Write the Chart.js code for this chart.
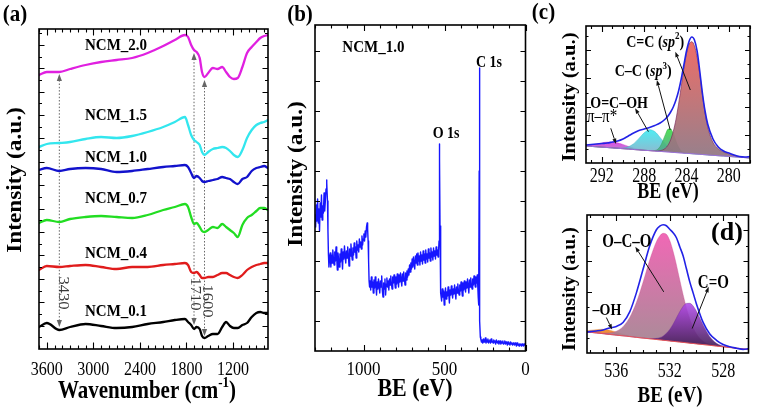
<!DOCTYPE html>
<html>
<head>
<meta charset="utf-8">
<script src="https://cdn.jsdelivr.net/npm/chart.js@4.4.1/dist/chart.umd.min.js"></script>
<style>
  html, body { margin: 0; padding: 0; background: #fff; }
  #wrap { position: relative; width: 760px; height: 409px; overflow: hidden; }
  canvas { position: absolute; }
</style>
</head>
<body>
<div id="wrap">
  <canvas id="ftir" width="290" height="409" style="left:0;top:0"></canvas>
  <canvas id="survey" width="260" height="409" style="left:280px;top:0"></canvas>
  <canvas id="c1s" width="240" height="205" style="left:520px;top:0"></canvas>
  <canvas id="o1s" width="240" height="209" style="left:520px;top:200px"></canvas>
</div>
<script>
// ---- (a) FTIR spectra, intensity in a.u. (offset stacked) ----
const ftirWn = [3700, 3600, 3438, 3300, 3100, 2900, 2700, 2500, 2300, 2100, 1950, 1820, 1780, 1740, 1703, 1670, 1630, 1600, 1568, 1520, 1460, 1400, 1340, 1290, 1240, 1190, 1140, 1080, 1020, 960, 900, 850, 800, 750];
const ncm20 = [274, 277, 277, 280, 284, 287, 289, 291, 296, 303, 309, 314, 312, 304, 299, 297, 291, 277, 272, 276, 281, 280, 282, 277, 272, 270, 271, 282, 296, 302, 307, 311, 313, 314];
const ncm15 = [202, 205, 206, 207, 210, 212, 211, 213, 217, 222, 227, 232, 224, 214, 209, 207, 204, 197, 194, 197, 200, 201, 202, 201, 198, 194, 192, 199, 211, 219, 224, 226, 227, 229];
const ncm10 = [179, 181, 178, 180, 181, 180, 177, 178, 180, 182, 183, 184, 182, 176, 171, 173, 171, 168, 167, 168, 169, 170, 172, 171, 170, 167, 165, 170, 172, 178, 181, 182, 183, 181];
const ncm07 = [126, 129, 127, 130, 132, 133, 132, 131, 134, 139, 142, 145, 142, 132, 125, 126, 122, 118, 117, 119, 122, 121, 125, 122, 119, 116, 112, 124, 131, 134, 138, 141, 141, 139];
const ncm04 = [79, 83, 82, 83, 84, 82, 80, 82, 82, 84, 85, 86, 84, 77, 76, 77, 74, 71, 71, 72, 72, 74, 76, 76, 74, 72, 71, 74, 79, 82, 84, 85, 86, 86];
const ncm01 = [22, 26, 19, 22, 25, 23, 21, 22, 25, 27, 29, 30, 27, 24, 20, 22, 20, 13, 11, 13, 15, 15, 22, 27, 23, 21, 21, 24, 26, 32, 36, 37, 36, 36];
const ftirNames = ['NCM_2.0', 'NCM_1.5', 'NCM_1.0', 'NCM_0.7', 'NCM_0.4', 'NCM_0.1'];
const ftirMarkWn = [3438, 1703, 1568];
const ftirMarkText = ['3430', '1710', '1600'];
const ftirMarkTop = [275, 296, 269];
const ftirMarkBottom = [22, 24, 13];

// ---- (b) XPS survey [BE, counts a.u.] ----
const xpsSurvey = [
  [1300,136],[1296,124],[1292,146],[1288,130],[1284,152],[1280,128],[1276,142],[1272,120],[1268,148],[1264,134],[1260,156],[1256,131],[1252,145],[1248,138],[1244,158],[1240,140],[1236,150],[1232,162],[1229,171],[1226,168],[1223,150],[1220,120],[1217,96],[1214,84],
  [1211,90],[1206,98],[1202,84],[1198,96],[1194,88],[1190,101],[1186,92],[1182,86],[1178,99],[1174,90],[1170,104],[1166,93],[1162,81],[1158,98],[1154,91],[1150,84],[1146,97],[1142,89],[1138,102],[1134,94],[1130,82],[1126,99],[1122,92],[1118,105],[1114,95],[1110,88],[1106,100],[1102,93],[1098,104],[1094,96],[1090,85],[1086,102],[1082,95],[1078,107],[1074,97],[1070,91],[1066,103],[1062,96],[1058,108],[1054,99],[1050,104],[1046,93],[1042,110],[1038,101],[1034,106],[1030,99],[1026,112],[1022,104],[1018,109],[1014,102],[1010,115],[1006,106],[1002,112],[998,117],[994,110],[990,120],[986,114],[982,124],[978,128],[975,122],[972,110],[969,90],[966,70],[963,64],
  [960,70],[956,61],[952,74],[948,64],[944,69],[940,58],[936,71],[932,63],[928,74],[924,66],[920,56],[916,69],[912,62],[908,72],[904,65],[900,58],[896,70],[892,64],[888,75],[884,60],[880,54],[876,68],[872,62],[868,72],[864,56],[860,67],[856,73],[852,64],[848,70],[844,61],[840,72],[836,66],[832,75],[828,67],[824,62],[820,74],[816,68],[812,76],[808,69],[804,63],[800,74],[796,67],[792,77],[788,70],[784,64],[780,76],[776,69],[772,78],[768,71],[764,65],[760,77],[756,70],[752,79],[748,72],[744,66],[740,78],[736,71],[732,80],[728,74],[724,82],[720,76],[716,86],[712,79],[708,88],[704,82],[700,92],[696,84],[692,94],[688,87],[684,82],[680,95],[676,88],[672,97],[668,86],[664,98],[660,90],[656,95],[652,86],[648,99],[644,90],[640,96],[636,87],[632,100],[628,91],[624,97],[620,88],[616,101],[612,92],[608,97],[604,89],[600,102],[596,93],[592,98],[588,90],[584,103],[580,94],[576,99],[572,91],[568,103],[564,95],[560,100],[556,92],[552,104],[548,96],[544,101],[540,94],[537,100],[534,110],[532,170],[531,207],[530,192],[528,125],[526,75],[524,62],
  [522,58],[518,50],[514,62],[510,54],[506,60],[502,46],[498,57],[494,63],[490,52],[486,59],[482,55],[478,64],[474,57],[470,48],[466,61],[462,56],[458,65],[454,58],[450,53],[446,62],[442,57],[438,66],[434,59],[430,52],[426,64],[422,58],[418,67],[414,60],[410,56],[406,66],[402,60],[398,69],[394,62],[390,55],[386,68],[382,61],[378,70],[374,63],[370,59],[366,69],[362,63],[358,72],[354,65],[350,58],[346,71],[342,64],[338,73],[334,66],[330,62],[326,72],[322,66],[318,75],[314,68],[310,64],[306,74],[302,68],[298,76],[295,66],[292,54],[290,46],[288,60],[286,180],[285,283],[284,250],[283,120],[281,30],[279,14],
  [276,12],[272,9],[268,11],[264,8],[260,12],[256,9],[252,10],[248,13],[244,8],[240,11],[236,9],[232,12],[228,8],[224,10],[220,11],[216,8],[212,12],[208,9],[204,10],[200,8],[196,11],[192,9],[188,10],[184,7],[180,11],[176,9],[172,8],[168,10],[164,7],[160,9],[156,10],[152,7],[148,9],[144,8],[140,10],[136,7],[132,8],[128,10],[124,7],[120,9],[116,8],[112,6],[108,9],[104,7],[100,8],[96,6],[92,9],[88,7],[84,8],[80,6],[76,8],[72,7],[68,6],[64,8],[60,7],[56,5],[52,8],[48,6],[44,7],[40,5],[36,7],[32,6],[28,7],[24,5],[20,7],[16,6],[12,5],[8,7],[4,6],[0,6]
];
const xpsPeakNames = ['O 1s', 'C 1s'];

// ---- (c) C 1s fit ----
const c1sBE = [293.5, 293, 292.5, 292, 291.5, 291, 290.5, 290, 289.5, 289, 288.5, 288, 287.5, 287, 286.5, 286, 285.75, 285.5, 285.25, 285, 284.75, 284.5, 284.25, 284, 283.75, 283.5, 283.25, 283, 282.75, 282.5, 282.25, 282, 281.5, 281, 280.5, 280, 279.5, 279, 278.5, 278];
const c1sEnvelope = [18, 18.5, 19, 19.5, 20, 21, 22, 24, 27, 30, 32.5, 34, 35.5, 37.5, 40, 44, 47, 51, 56, 63, 72, 84, 98, 112, 122, 126, 123, 112, 92, 70, 52, 39, 24, 16, 12, 10, 8, 6.5, 6, 6.5];
const c1sBackground = [17, 16.6, 16.2, 15.8, 15.5, 15.1, 14.7, 14.3, 13.9, 13.5, 13.1, 12.7, 12.4, 12, 11.6, 11.2, 11, 10.8, 10.6, 10.4, 10.2, 10, 9.8, 9.7, 9.5, 9.3, 9.1, 8.9, 8.7, 8.5, 8.3, 8.1, 7.7, 7.3, 7, 6.6, 6.2, 5.8, 5.4, 5];
const c1sPiPi = [0.7, 1.5, 2.8, 4.3, 5.5, 6, 5.5, 4.3, 2.8, 1.5, 0.7, 0.3, 0, 0, 0, 0, 0, 0, 0, 0, 0, 0, 0, 0, 0, 0, 0, 0, 0, 0, 0, 0, 0, 0, 0, 0, 0, 0, 0, 0];
const c1sCOOH = [0, 0, 0, 0, 0, 0, 0.2, 0.7, 2.3, 5.8, 11.5, 17.5, 20.9, 19.4, 14, 7.9, 5.4, 3.4, 2.1, 1.2, 0.6, 0.3, 0.1, 0, 0, 0, 0, 0, 0, 0, 0, 0, 0, 0, 0, 0, 0, 0, 0, 0];
const c1sSp3 = [0, 0, 0, 0, 0, 0, 0, 0, 0, 0, 0, 0, 0, 0.5, 4.8, 17.4, 22.9, 23.5, 18.8, 11.7, 5.7, 2.1, 0.7, 0.1, 0, 0, 0, 0, 0, 0, 0, 0, 0, 0, 0, 0, 0, 0, 0, 0];
const c1sSp2 = [0, 0, 0, 0, 0, 0, 0, 0, 0, 0, 0, 0, 0, 0, 0.7, 3.5, 6.8, 12.4, 21, 33, 48.7, 66.4, 84.4, 99.7, 109.4, 112, 108, 97, 80, 60, 42, 28, 13, 7, 4, 2.5, 1.2, 0.6, 0.2, 0];

// ---- (d) O 1s fit ----
const o1sBE = [538.2, 537.5, 537, 536.5, 536, 535.5, 535, 534.5, 534, 533.5, 533, 532.75, 532.5, 532.25, 532, 531.75, 531.5, 531.25, 531, 530.75, 530.5, 530.25, 530, 529.5, 529, 528.5, 528, 527.5, 527, 526.5, 526.1];
const o1sEnvelope = [21, 22, 23, 25, 26.5, 30.5, 41, 60, 83.5, 107, 123, 126.5, 128, 127, 123.5, 120, 115, 106, 97, 84, 71, 60, 49, 30.5, 19, 12.7, 8.5, 6.2, 4.8, 3.6, 4.4];
const o1sBackground = [21, 20, 19.3, 18.5, 17.8, 17.1, 16.4, 15.6, 14.9, 14.2, 13.5, 13.1, 12.7, 12.4, 12, 11.6, 11.3, 10.9, 10.6, 10.2, 9.8, 9.5, 9.1, 8.4, 7.7, 6.9, 6.2, 5.5, 4.8, 4, 3.5];
const o1sOH = [1.3, 3.3, 4.4, 4.3, 3, 1.6, 0.6, 0.2, 0, 0, 0, 0, 0, 0, 0, 0, 0, 0, 0, 0, 0, 0, 0, 0, 0, 0, 0, 0, 0, 0, 0];
const o1sOCO = [0, 0.1, 0.5, 1.5, 3.9, 9.2, 19.1, 34.7, 55.7, 78.6, 97.6, 103.7, 106.7, 106, 100.2, 89.9, 76.6, 62, 47.6, 34.8, 24.1, 15.8, 9.9, 3.3, 0.9, 0.2, 0, 0, 0, 0, 0];
const o1sCO = [0, 0, 0, 0, 0, 0, 0, 0, 0, 0.2, 1.1, 2.2, 4.1, 7.2, 11.5, 17.2, 23.7, 30.3, 35.9, 39.3, 39.8, 37.4, 32.5, 19.5, 8.6, 2.8, 0.7, 0.1, 0, 0, 0];

// ---------- helpers ----------
const SERIF = '"Liberation Serif", "Times New Roman", Times, serif';
const fnt = (size, style) => (style ? style + ' ' : '') + size + 'px ' + SERIF;
const B = s => fnt(s, 'bold');
const BI = s => fnt(s, 'italic bold');

function pts(xs, ys, base) {
  return xs.map((x, i) => ({ x: x, y: ys[i] + (base ? base[i] : 0) }));
}

// draw a run of text pieces [text, font, dy]
function txt(ctx, parts, x, y, o) {
  o = o || {};
  ctx.save();
  ctx.translate(x, y);
  if (o.rot) ctx.rotate(o.rot);
  ctx.scale(o.sx || 1, o.sy || 1);
  let w = 0;
  parts.forEach(p => { ctx.font = p[1]; w += ctx.measureText(p[0]).width; });
  let cx = o.align === 'left' ? 0 : (o.align === 'right' ? -w : -w / 2);
  ctx.fillStyle = o.color || '#000';
  ctx.textBaseline = o.base || 'alphabetic';
  parts.forEach(p => {
    ctx.font = p[1];
    ctx.fillText(p[0], cx, p[2] || 0);
    cx += ctx.measureText(p[0]).width;
  });
  ctx.restore();
}

function arrow(ctx, x1, y1, x2, y2, o) {
  ctx.save();
  ctx.strokeStyle = o.color; ctx.fillStyle = o.color; ctx.lineWidth = o.width || 1;
  const ang = Math.atan2(y2 - y1, x2 - x1);
  const hl = o.head || 6, hw = o.hw || 2.4;
  const bx = x2 - Math.cos(ang) * hl, by = y2 - Math.sin(ang) * hl;
  if (o.dash) ctx.setLineDash(o.dash);
  ctx.beginPath(); ctx.moveTo(x1, y1); ctx.lineTo(bx, by); ctx.stroke();
  ctx.setLineDash([]);
  ctx.beginPath();
  ctx.moveTo(x2, y2);
  ctx.lineTo(bx + Math.sin(ang) * hw, by - Math.cos(ang) * hw);
  ctx.lineTo(bx - Math.sin(ang) * hw, by + Math.cos(ang) * hw);
  ctx.closePath(); ctx.fill();
  ctx.restore();
}

function at(chart, x, y) {
  return [chart.scales.x.getPixelForValue(x), chart.scales.y.getPixelForValue(y)];
}

// vertical gradient between two data heights
function vgrad(vTop, vBot, cTop, cBot) {
  return c => {
    const ch = c.chart;
    if (!ch.chartArea) return cTop;
    const y0 = ch.scales.y.getPixelForValue(vTop), y1 = ch.scales.y.getPixelForValue(vBot);
    const g = ch.ctx.createLinearGradient(0, y0, 0, y1);
    g.addColorStop(0, cTop);
    g.addColorStop(1, cBot);
    return g;
  };
}

const isMult = (v, m) => Math.abs(v / m - Math.round(v / m)) < 1e-6;

// boxed frame with inward ticks and tick labels
function frameAxes(o) {
  return {
    id: 'frameAxes',
    afterDraw(chart) {
      const { ctx, chartArea: a } = chart;
      const xs = chart.scales.x, ys = chart.scales.y;
      ctx.save();
      ctx.strokeStyle = '#000';
      ctx.lineWidth = 1.1;
      ctx.beginPath();
      const n0 = Math.ceil(xs.min / o.xStep - 1e-9), n1 = Math.floor(xs.max / o.xStep + 1e-9);
      for (let n = n0; n <= n1; n++) {
        const v = n * o.xStep;
        const len = isMult(v, o.xMajor) ? o.major + 1 : o.minor + 0.5;
        const px = Math.round(xs.getPixelForValue(v)) + 0.5;
        ctx.moveTo(px, a.bottom); ctx.lineTo(px, a.bottom - len);
        ctx.moveTo(px, a.top); ctx.lineTo(px, a.top + len);
      }
      for (let n = 1; n * o.yStep < ys.max - 2; n++) {
        const len = (!o.yAlt || n % 2 === 0) ? o.major : o.minor;
        const py = Math.round(ys.getPixelForValue(n * o.yStep)) + 0.5;
        ctx.moveTo(a.left, py); ctx.lineTo(a.left + len, py);
        ctx.moveTo(a.right, py); ctx.lineTo(a.right - len, py);
      }
      ctx.stroke();
      ctx.lineWidth = 1.6;
      ctx.strokeRect(a.left, a.top, a.right - a.left, a.bottom - a.top);
      ctx.restore();
      o.xLabels.forEach(v => {
        txt(ctx, [[String(v), fnt(o.tick)]], xs.getPixelForValue(v), o.labelY, { sy: o.sy });
      });
      if (o.extra) o.extra(chart, ctx);
    }
  };
}

function baseOptions(pad, xMin, xMax, yMax) {
  return {
    responsive: false,
    animation: false,
    devicePixelRatio: 1,
    events: [],
    layout: { padding: pad },
    plugins: { legend: { display: false }, tooltip: { enabled: false } },
    elements: { point: { radius: 0 }, line: { borderJoinStyle: 'round', borderCapStyle: 'round' } },
    scales: {
      x: { type: 'linear', display: false, reverse: true, min: xMin, max: xMax },
      y: { type: 'linear', display: false, min: 0, max: yMax }
    }
  };
}

// ---------- (a) FTIR ----------
const ftirColors = ['#e020e0', '#33e6ee', '#1212cc', '#22dd22', '#e01c1c', '#000000'];
const ftirLabelAt = [[2708, 299], [2708, 229], [2708, 187], [2708, 146], [2708, 91], [2708, 33]];
const ftirMarkLabelAt = [[3391, 56], [1690, 55], [1536, 48]];

new Chart(document.getElementById('ftir'), {
  type: 'line',
  data: {
    datasets: [ncm20, ncm15, ncm10, ncm07, ncm04, ncm01].map((vals, i) => ({
      label: ftirNames[i],
      data: pts(ftirWn, vals),
      borderColor: ftirColors[i],
      borderWidth: 2.3,
      fill: false,
      cubicInterpolationMode: 'monotone'
    }))
  },
  options: baseOptions({ left: 39, top: 29, right: 22, bottom: 60 }, 750, 3700, 320),
  plugins: [
    {
      id: 'ftirMarks',
      beforeDatasetsDraw(chart) {
        const ctx = chart.ctx;
        ftirMarkWn.forEach((w, i) => {
          const [px, yt] = at(chart, w, ftirMarkTop[i]);
          const yb = chart.scales.y.getPixelForValue(ftirMarkBottom[i]);
          const ym = (yt + yb) / 2;
          const st = { color: '#666', width: 1, dash: [1.5, 1.8], head: 7, hw: 2.6 };
          arrow(ctx, px, ym, px, yt, st);
          arrow(ctx, px, ym, px, yb, st);
        });
      }
    },
    frameAxes({
      xStep: 100, xMajor: 600, xLabels: [3600, 3000, 2400, 1800, 1200],
      yStep: 11.7, yAlt: true, major: 5.5, minor: 3, tick: 16, sy: 1.2, labelY: 375,
      extra(chart, ctx) {
        ftirNames.forEach((n, i) => {
          const [x, y] = at(chart, ftirLabelAt[i][0], ftirLabelAt[i][1]);
          txt(ctx, [[n, B(15)]], x, y, { sy: 1.18 });
        });
        ftirMarkText.forEach((t, i) => {
          const [x, y] = at(chart, ftirMarkLabelAt[i][0], ftirMarkLabelAt[i][1]);
          txt(ctx, [[t, fnt(14)]], x, y, { rot: Math.PI / 2, sx: 1.18, base: 'middle', color: '#3a3a3a' });
        });
        txt(ctx, [['Wavenumber (cm', B(21)], ['-1', B(13), -9], [')', B(21)]], 147, 398, { sy: 1.18 });
        txt(ctx, [['Intensity (a.u.)', B(21)]], 21, 180, { rot: -Math.PI / 2, sx: 1.11 });
        txt(ctx, [['(a)', B(21)]], 15, 21, { sy: 1.05 });
      }
    })
  ]
});

// ---------- (b) XPS survey ----------
const xpsLabelAt = [[939.5, 299], [490.7, 213], [225.3, 284.5]];

new Chart(document.getElementById('survey'), {
  type: 'line',
  data: {
    datasets: [{
      label: 'NCM_1.0',
      data: xpsSurvey.map(p => ({ x: p[0], y: p[1] })),
      borderColor: '#1616ff',
      borderWidth: 1.4,
      fill: false,
      tension: 0
    }]
  },
  options: baseOptions({ left: 35, top: 25, right: 14.5, bottom: 58 }, 0, 1300, 326),
  plugins: [
    frameAxes({
      xStep: 100, xMajor: 500, xLabels: [1000, 500, 0],
      yStep: 30, yAlt: false, major: 5, minor: 3, tick: 17, sy: 1.15, labelY: 375,
      extra(chart, ctx) {
        let [x, y] = at(chart, xpsLabelAt[0][0], xpsLabelAt[0][1]);
        txt(ctx, [['NCM_1.0', B(15)]], x, y, { sy: 1.18 });
        xpsPeakNames.forEach((n, i) => {
          [x, y] = at(chart, xpsLabelAt[i + 1][0], xpsLabelAt[i + 1][1]);
          txt(ctx, [[n, B(14)]], x, y, { sy: 1.18 });
        });
        txt(ctx, [['BE (eV)', B(22)]], 135, 396, { sy: 1.15 });
        txt(ctx, [['Intensity (a.u.)', B(21)]], 22, 174, { rot: -Math.PI / 2, sx: 1.11 });
        txt(ctx, [['(b)', B(21)]], 20, 21, { sy: 1.05 });
      }
    })
  ]
});

// ---------- (c) C 1s ----------
const c1sLabels = [
  { parts: [['C=C (', B(14)], ['sp', BI(14)], ['2', B(9), -6], [')', B(14)]], at: [286.96, 116.3] },
  { parts: [['C\u2013C (', B(14)], ['sp', BI(14)], ['3', B(9), -6], [')', B(14)]], at: [288.1, 87] },
  { parts: [['O=C\u2013OH', B(14)]], at: [290.37, 55.5] },
  { parts: [['\u03c0\u2013\u03c0*', fnt(15)]], at: [291.98, 41] }
];
// [tail BE, tail v, head BE, head v]
const c1sArrows = [[283.64, 73, 285.06, 111.3], [285.54, 33, 286.8, 83], [287.6, 31.3, 288.86, 54.7], [291.16, 34.7, 290.66, 19]];

new Chart(document.getElementById('c1s'), {
  type: 'line',
  data: {
    datasets: [
      { label: 'background', data: pts(c1sBE, c1sBackground), borderColor: '#9b70d8', borderWidth: 1, fill: false, order: 1 },
      { label: 'pi-pi*', data: pts(c1sBE, c1sPiPi, c1sBackground), borderColor: 'rgba(190,40,190,0.5)', borderWidth: 0.6, fill: { target: 0 },
        backgroundColor: vgrad(24, 13, 'rgba(228,40,228,0.9)', 'rgba(185,110,205,0.9)'), order: 5 },
      { label: 'O=C-OH', data: pts(c1sBE, c1sCOOH, c1sBackground), borderColor: 'rgba(40,170,190,0.6)', borderWidth: 0.6, fill: { target: 0 },
        backgroundColor: vgrad(34, 11, 'rgba(45,235,242,0.85)', 'rgba(120,175,200,0.85)'), order: 4 },
      { label: 'C-C', data: pts(c1sBE, c1sSp3, c1sBackground), borderColor: 'rgba(40,150,60,0.6)', borderWidth: 0.6, fill: { target: 0 },
        backgroundColor: vgrad(36, 10, 'rgba(60,225,60,0.9)', 'rgba(80,160,150,0.9)'), order: 3 },
      { label: 'C=C', data: pts(c1sBE, c1sSp2, c1sBackground), borderColor: 'rgba(120,40,90,0.8)', borderWidth: 0.8, fill: { target: 0 },
        backgroundColor: vgrad(122, 8, 'rgba(238,98,92,0.93)', 'rgba(145,118,130,0.93)'), order: 2 },
      { label: 'envelope', data: pts(c1sBE, c1sEnvelope), borderColor: '#2222e6', borderWidth: 1.6, fill: false, order: 0 }
    ].map(d => Object.assign({ cubicInterpolationMode: 'monotone' }, d))
  },
  options: baseOptions({ left: 66, top: 26, right: 10, bottom: 42 }, 278, 293.5, 137),
  plugins: [
    frameAxes({
      xStep: 1, xMajor: 4, xLabels: [292, 288, 284, 280],
      yStep: 14.1, yAlt: true, major: 5, minor: 2.5, tick: 16, sy: 1.3, labelY: 181.5,
      extra(chart, ctx) {
        c1sArrows.forEach(a => {
          const [x1, y1] = at(chart, a[0], a[1]);
          const [x2, y2] = at(chart, a[2], a[3]);
          arrow(ctx, x1, y1, x2, y2, { color: '#111', width: 1, head: 5.5, hw: 2 });
        });
        c1sLabels.forEach(l => {
          const [x, y] = at(chart, l.at[0], l.at[1]);
          txt(ctx, l.parts, x, y, { sy: 1.25 });
        });
        txt(ctx, [['BE (eV)', B(18)]], 148, 198, { sy: 1.25 });
        txt(ctx, [['Intensity (a.u.)', B(18)]], 55, 97, { rot: -Math.PI / 2, sx: 1.15 });
        txt(ctx, [['(c)', B(21)]], 23.5, 19, { sy: 1.05 });
      }
    })
  ]
});

// ---------- (d) O 1s ----------
const o1sLabels = [
  { parts: [['O\u2013C\u2013O', B(15)]], at: [535.21, 106.2] },
  { parts: [['C=O', B(15)]], at: [528.73, 64.7] },
  { parts: [['\u2013OH', B(14)]], at: [536.71, 37.7] }
];
const o1sArrows = [[532.45, 61, 534.58, 106], [530.32, 24.4, 529.08, 66], [536.75, 35.4, 536.32, 23.4]];

new Chart(document.getElementById('o1s'), {
  type: 'line',
  data: {
    datasets: [
      { label: 'background', data: pts(o1sBE, o1sBackground), borderColor: 'rgba(232,80,90,0.95)', borderWidth: 1, fill: false, order: 1 },
      { label: '-OH', data: pts(o1sBE, o1sOH, o1sBackground), borderColor: 'rgba(220,120,30,0.6)', borderWidth: 0.6, fill: { target: 0 },
        backgroundColor: vgrad(25, 16, 'rgba(245,150,40,0.95)', 'rgba(230,120,60,0.95)'), order: 4 },
      { label: 'O-C-O', data: pts(o1sBE, o1sOCO, o1sBackground), borderColor: 'rgba(200,70,140,0.6)', borderWidth: 0.6, fill: { target: 0 },
        backgroundColor: vgrad(120, 12, 'rgba(240,92,176,0.93)', 'rgba(165,130,145,0.93)'), order: 3 },
      { label: 'C=O', data: pts(o1sBE, o1sCO, o1sBackground), borderColor: 'rgba(110,40,150,0.7)', borderWidth: 0.6, fill: { target: 0 },
        backgroundColor: vgrad(50, 8, 'rgba(178,72,236,0.88)', 'rgba(70,30,90,0.9)'), order: 2 },
      { label: 'envelope', data: pts(o1sBE, o1sEnvelope), borderColor: '#2222e6', borderWidth: 1.6, fill: false, order: 0 }
    ].map(d => Object.assign({ cubicInterpolationMode: 'monotone' }, d))
  },
  options: baseOptions({ left: 67, top: 15, right: 11.5, bottom: 56 }, 526.1, 538.2, 137.7),
  plugins: [
    frameAxes({
      xStep: 1, xMajor: 4, xLabels: [536, 532, 528],
      yStep: 15.3, yAlt: true, major: 5, minor: 2.5, tick: 16, sy: 1.3, labelY: 177,
      extra(chart, ctx) {
        o1sArrows.forEach(a => {
          const [x1, y1] = at(chart, a[0], a[1]);
          const [x2, y2] = at(chart, a[2], a[3]);
          arrow(ctx, x1, y1, x2, y2, { color: '#111', width: 1, head: 5.5, hw: 2 });
        });
        o1sLabels.forEach(l => {
          const [x, y] = at(chart, l.at[0], l.at[1]);
          txt(ctx, l.parts, x, y, { sy: 1.2 });
        });
        txt(ctx, [['(d)', B(26)]], 207, 40);
        txt(ctx, [['BE (eV)', B(19)]], 150, 201.5, { sy: 1.2 });
        txt(ctx, [['Intensity (a.u.)', B(18)]], 55, 89, { rot: -Math.PI / 2, sx: 1.1 });
      }
    })
  ]
});
</script>
</body>
</html>
